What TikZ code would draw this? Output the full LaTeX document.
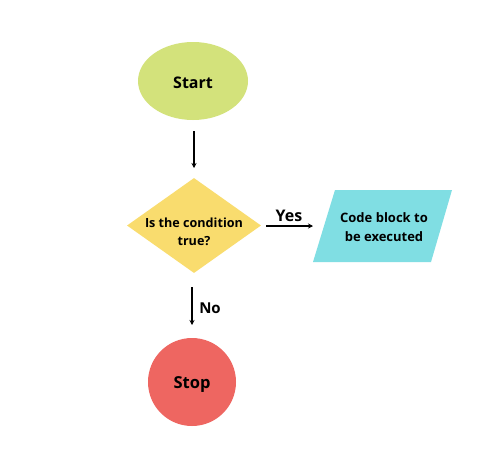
\documentclass[tikz,border=0pt]{standalone}
\usepackage{fontspec}
\setmainfont{Open Sans}
\usetikzlibrary{shapes.geometric,arrows.meta}
\definecolor{cstart}{HTML}{D3E27B}
\definecolor{cdec}{HTML}{F9DC6E}
\definecolor{ccode}{HTML}{80DEE3}
\definecolor{cstop}{HTML}{EE6661}
\begin{document}
\begin{tikzpicture}[x=1pt,y=-1pt,
  lbl/.style={font=\bfseries, text=black, align=center, inner sep=0pt},
  arr/.style={-{Stealth[length=5pt,width=5pt]}, line width=1.3pt, black}]
\useasboundingbox[fill=white] (0,0) rectangle (482,464);
% Start
\node[ellipse, fill=cstart, minimum width=110pt, minimum height=78pt, inner sep=0pt] (start) at (193,81) {};
\node[lbl, font=\fontsize{16}{18}\selectfont\bfseries] (starttext) at (193,83) {Start};
% Decision
\node[diamond, fill=cdec, minimum width=134pt, minimum height=95pt, inner sep=0pt] (dec) at (194,225.5) {};
\node[lbl, font=\fontsize{12.6}{18.5}\selectfont\bfseries] (dectext) at (194,232) {Is the condition\\true?};
% Code block (parallelogram)
\fill[ccode] (335,190) -- (452,190) -- (431,262) -- (313,262) -- cycle;
\node[lbl, font=\fontsize{13}{19}\selectfont\bfseries] (code) at (384,227) {Code block to\\be executed};
\coordinate (codein) at (313,226);
% Stop
\node[circle, fill=cstop, minimum size=88pt, inner sep=0pt] (stop) at (192,382) {};
\node[lbl, font=\fontsize{16.5}{18}\selectfont\bfseries] (stoptext) at (192,385) {Stop};
% Connectors
\coordinate (a1s) at (194,131);
\coordinate (a1e) at (194,168);
\draw[arr] (a1s) -- (a1e);
\coordinate (a2s) at (266,226);
\draw[arr] (a2s) -- (codein);
\node[lbl, font=\fontsize{16}{18}\selectfont\bfseries] (yes) at (289,216) {Yes};
\coordinate (a3s) at (192,287);
\coordinate (a3e) at (192,325);
\draw[arr] (a3s) -- (a3e);
\node[lbl, font=\fontsize{15}{18}\selectfont\bfseries] (no) at (210,308) {No};
\end{tikzpicture}
\end{document}
